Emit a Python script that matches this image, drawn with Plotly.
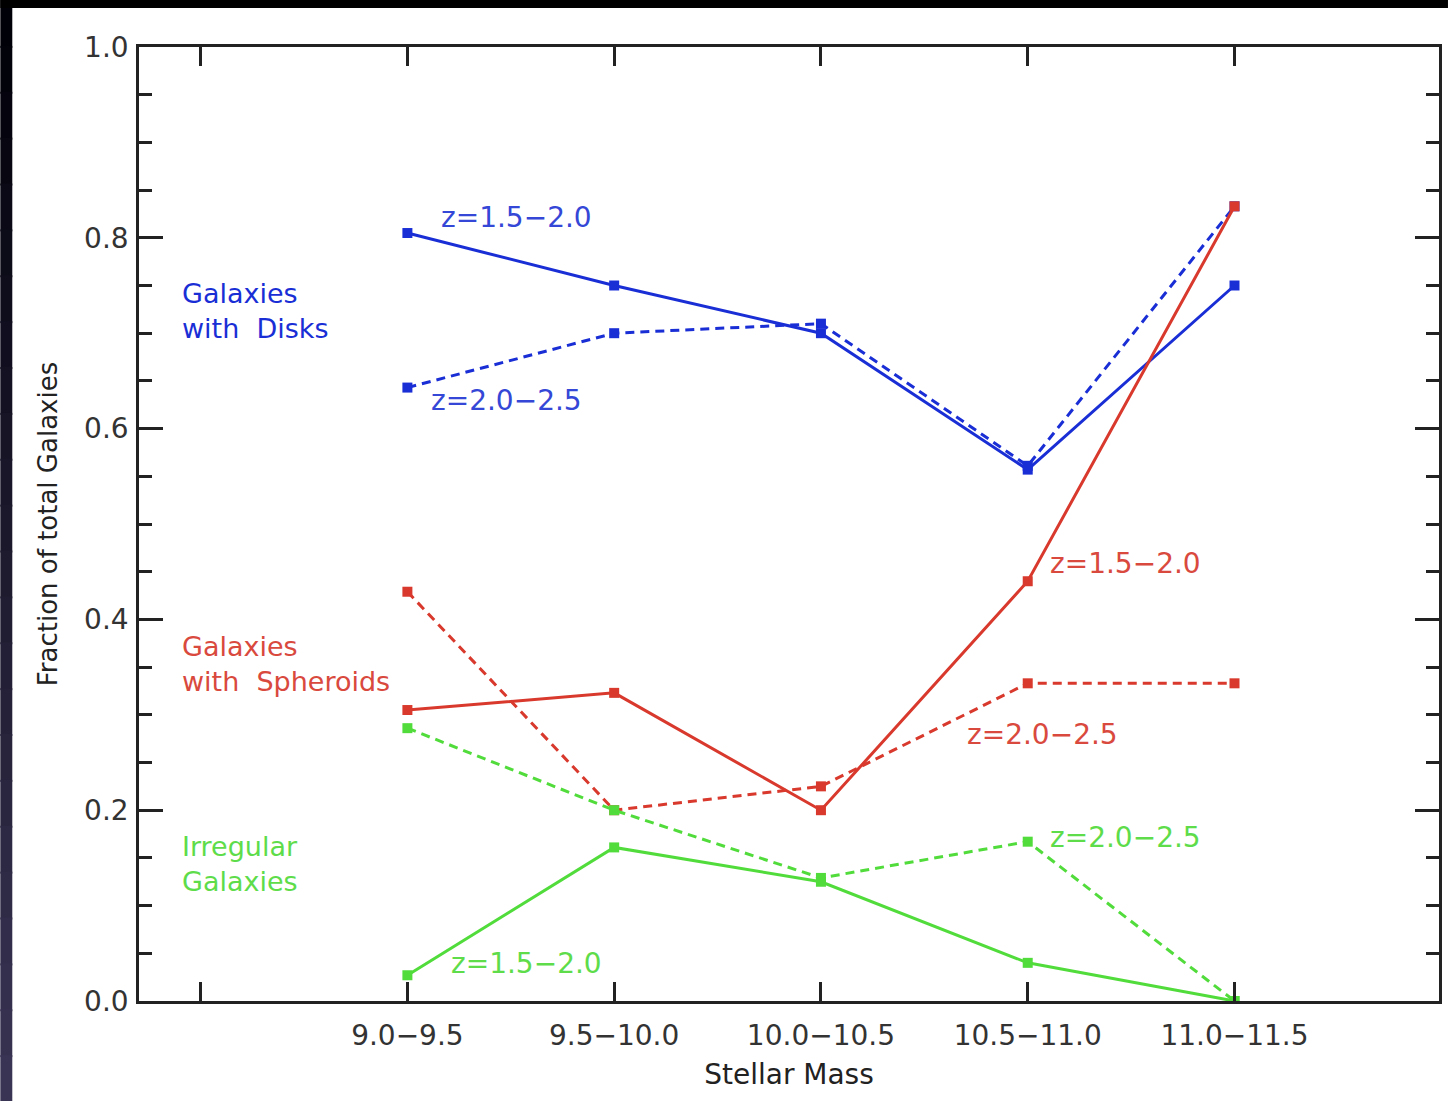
import plotly.graph_objects as go

# ---- data ----
mass_bins = ["9.0\u22129.5", "9.5\u221210.0", "10.0\u221210.5", "10.5\u221211.0", "11.0\u221211.5"]
disk_z15 = [0.805, 0.750, 0.700, 0.557, 0.750]
disk_z20 = [0.643, 0.700, 0.710, 0.561, 0.833]
sph_z15 = [0.305, 0.323, 0.200, 0.440, 0.833]
sph_z20 = [0.429, 0.200, 0.225, 0.333, 0.333]
irr_z15 = [0.027, 0.161, 0.125, 0.040, 0.000]
irr_z20 = [0.286, 0.200, 0.129, 0.167, 0.000]

BLUE = "#1a2ed6"
RED = "#d8392c"
GREEN = "#52dc3c"
BLUE_T = "#3447d6"
RED_T = "#d9493d"
GREEN_T = "#5edc4a"

x_idx = list(range(len(mass_bins)))
FONT = "DejaVu Sans"

fig = go.Figure()

def add_series(y, color, dash, name):
    fig.add_trace(go.Scatter(
        x=x_idx, y=y, mode="lines+markers", name=name,
        line=dict(color=color, width=3, dash=dash),
        marker=dict(symbol="square", size=10, color=color),
        showlegend=False,
    ))

add_series(disk_z15, BLUE, "solid", "Disks z=1.5-2.0")
add_series(disk_z20, BLUE, "9px,6px", "Disks z=2.0-2.5")
add_series(sph_z15, RED, "solid", "Spheroids z=1.5-2.0")
add_series(sph_z20, RED, "9px,6px", "Spheroids z=2.0-2.5")
add_series(irr_z15, GREEN, "solid", "Irregular z=1.5-2.0")
add_series(irr_z20, GREEN, "9px,6px", "Irregular z=2.0-2.5")

def note(text, x, y, color, size=28):
    fig.add_annotation(x=x, y=y, xref="x", yref="y", text=text, showarrow=False,
                       xanchor="left", yanchor="middle", align="left",
                       font=dict(family=FONT, size=size, color=color))

note("z=1.5\u22122.0", 0.154, 0.821, BLUE_T)
note("z=2.0\u22122.5", 0.106, 0.629, BLUE_T)
note("z=1.5\u22122.0", 3.098, 0.459, RED_T)
note("z=2.0\u22122.5", 2.697, 0.279, RED_T)
note("z=2.0\u22122.5", 3.098, 0.171, GREEN_T)
note("z=1.5\u22122.0", 0.203, 0.039, GREEN_T)
note("Galaxies<br>with  Disks", -1.100, 0.7235, BLUE, 27)
note("Galaxies<br>with  Spheroids", -1.100, 0.3535, RED_T, 27)
note("Irregular<br>Galaxies", -1.100, 0.1435, GREEN_T, 27)

# dark screenshot frame (top and left bands)
W, H = 1451, 1101
L, R, T, B = 139, 9, 47, 100
pw, ph = W - L - R, H - T - B
def px(xp):
    return (xp - L) / pw
def py(yp):
    return (H - B - yp) / ph

shapes = []
n = 24
for i in range(n):
    t = i / (n - 1)
    r = int(0 + t * 58)
    g = int(0 + t * 52)
    b = int(8 + t * 76)
    y0p = i * H / n
    y1p = (i + 1) * H / n + 2
    shapes.append(dict(type="rect", xref="paper", yref="paper", x0=px(0), x1=px(12),
                       y0=py(y0p), y1=py(y1p), fillcolor=f"rgb({r},{g},{b})",
                       line=dict(width=0), layer="above"))
shapes.append(dict(type="rect", xref="paper", yref="paper", x0=px(0), x1=px(W), y0=py(0), y1=py(8),
                   fillcolor="#000000", line=dict(width=0), layer="above"))

fig.update_layout(
    width=W, height=H, autosize=False,
    margin=dict(l=L, r=R, t=T, b=B, pad=0),
    paper_bgcolor="white", plot_bgcolor="white",
    font=dict(family=FONT, size=28, color="#333333"),
    shapes=shapes,
)

fig.update_xaxes(
    range=[-1.298, 4.989],
    tickmode="array",
    tickvals=[-1] + x_idx,
    ticktext=[""] + mass_bins,
    ticks="inside", ticklen=19, tickwidth=2.5, tickcolor="#222222",
    ticklabelstandoff=8,
    showline=True, linecolor="#222222", linewidth=2.5, mirror="allticks",
    showgrid=False, zeroline=False,
    tickfont=dict(family=FONT, size=28, color="#333333"),
    title=dict(text="Stellar Mass", font=dict(family=FONT, size=28, color="#222222"), standoff=14),
)
fig.update_yaxes(
    range=[0, 1.0],
    tickmode="array",
    tickvals=[0, 0.2, 0.4, 0.6, 0.8, 1.0],
    ticktext=["0.0", "0.2", "0.4", "0.6", "0.8", "1.0"],
    ticks="inside", ticklen=24, tickwidth=2.5, tickcolor="#222222",
    ticklabelstandoff=2,
    minor=dict(dtick=0.05, ticks="inside", ticklen=13, tickwidth=2.5, tickcolor="#222222", showgrid=False),
    showline=True, linecolor="#222222", linewidth=2.5, mirror="allticks",
    showgrid=False, zeroline=False,
    tickfont=dict(family=FONT, size=28, color="#333333"),
    title=dict(text="Fraction of total Galaxies", font=dict(family=FONT, size=26, color="#222222"), standoff=20),
)

fig.write_html("out.html")
